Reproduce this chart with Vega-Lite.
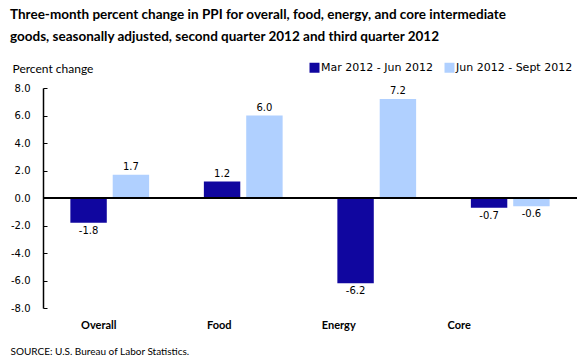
{
  "$schema": "https://vega.github.io/schema/vega-lite/v6.json",
  "width": 534,
  "height": 220,
  "autosize": {"type": "none"},
  "padding": {"left": 43, "top": 88, "right": 3, "bottom": 52},
  "background": "white",
  "title": {
    "text": ["Three-month percent change in PPI for overall, food, energy, and core intermediate", "goods, seasonally adjusted, second quarter 2012 and third quarter 2012"],
    "anchor": "start",
    "frame": "group",
    "font": "Lato",
    "fontSize": 13.5,
    "fontWeight": "bold",
    "color": "#000000",
    "lineHeight": 22,
    "dx": -33,
    "dy": 21,
    "offset": 40
  },
  "data": {
    "values": [
      {"category": "Overall", "period": "Mar 2012 - Jun 2012", "value": -1.8},
      {"category": "Overall", "period": "Jun 2012 - Sept 2012", "value": 1.7},
      {"category": "Food", "period": "Mar 2012 - Jun 2012", "value": 1.2},
      {"category": "Food", "period": "Jun 2012 - Sept 2012", "value": 6.0},
      {"category": "Energy", "period": "Mar 2012 - Jun 2012", "value": -6.2},
      {"category": "Energy", "period": "Jun 2012 - Sept 2012", "value": 7.2},
      {"category": "Core", "period": "Mar 2012 - Jun 2012", "value": -0.7},
      {"category": "Core", "period": "Jun 2012 - Sept 2012", "value": -0.6}
    ]
  },
  "encoding": {
    "x": {
      "field": "category",
      "type": "nominal",
      "sort": ["Overall", "Food", "Energy", "Core"],
      "scale": {"paddingInner": 0.41, "paddingOuter": 0.205},
      "axis": {
        "title": "SOURCE:  U.S. Bureau of Labor Statistics.",
        "titleFont": "Lato",
        "titleFontSize": 10,
        "titleFontWeight": "normal",
        "titleColor": "#000000",
        "titleAnchor": "start",
        "titleAlign": "left",
        "titleX": -33,
        "titleY": 43,
        "titleBaseline": "middle",
        "domain": false,
        "ticks": false,
        "labelAngle": 0,
        "labelFont": "Lato",
        "labelFontSize": 11,
        "labelFontWeight": "bold",
        "labelColor": "#000000",
        "labelPadding": 17,
        "labelBaseline": "middle",
        "labelOffset": {
          "condition": [
            {"test": "datum.value === 'Overall'", "value": -11},
            {"test": "datum.value === 'Food'", "value": -24},
            {"test": "datum.value === 'Energy'", "value": -38}
          ],
          "value": -51
        }
      }
    },
    "xOffset": {
      "field": "period",
      "type": "nominal",
      "sort": ["Mar 2012 - Jun 2012", "Jun 2012 - Sept 2012"],
      "scale": {"paddingInner": 0.14, "paddingOuter": 0}
    },
    "y": {
      "field": "value",
      "type": "quantitative",
      "scale": {"domain": [-8, 8], "nice": false, "zero": false},
      "axis": {
        "values": [-8, -6, -4, -2, 0, 2, 4, 6, 8],
        "format": ".1f",
        "grid": false,
        "domainColor": "#000000",
        "domainWidth": 1.5,
        "tickColor": "#000000",
        "tickSize": -4,
        "tickWidth": 1,
        "labelFont": "DejaVu Sans",
        "labelFontSize": 10,
        "labelColor": "#000000",
        "labelPadding": 17,
        "title": "Percent change",
        "titleFont": "Lato",
        "titleFontSize": 12,
        "titleFontWeight": "normal",
        "titleColor": "#000000",
        "titleAngle": 0,
        "titleAlign": "left",
        "titleBaseline": "middle",
        "titleX": -31,
        "titleY": -20
      }
    }
  },
  "layer": [
    {
      "mark": {"type": "bar"},
      "encoding": {
        "color": {
          "field": "period",
          "type": "nominal",
          "sort": ["Mar 2012 - Jun 2012", "Jun 2012 - Sept 2012"],
          "scale": {"range": ["#10069F", "#B0D0FF"]},
          "legend": {
            "title": null,
            "orient": "none",
            "direction": "horizontal",
            "legendX": 266,
            "legendY": -26,
            "symbolType": "square",
            "symbolSize": 100,
            "symbolStrokeWidth": 0,
            "symbolOpacity": 1,
            "labelFont": "DejaVu Sans",
            "labelFontSize": 11,
            "labelColor": "#000000",
            "labelOffset": 1,
            "columnPadding": 11
          }
        }
      }
    },
    {
      "transform": [{"filter": "datum.value >= 0"}],
      "mark": {"type": "text", "baseline": "bottom", "dy": -3, "font": "DejaVu Sans", "fontSize": 10, "color": "#000000"},
      "encoding": {"text": {"field": "value", "type": "quantitative", "format": ".1f"}}
    },
    {
      "transform": [{"filter": "datum.value < 0"}],
      "mark": {"type": "text", "baseline": "top", "dy": 3, "font": "DejaVu Sans", "fontSize": 10, "color": "#000000"},
      "encoding": {"text": {"field": "value", "type": "quantitative", "format": ".1f"}}
    },
    {
      "mark": {"type": "rule", "color": "#000000", "strokeWidth": 1.5},
      "encoding": {"y": {"datum": 0}, "x": null, "xOffset": null}
    }
  ],
  "config": {
    "view": {"stroke": null},
    "locale": {"number": {"decimal": ".", "thousands": ",", "grouping": [3], "currency": ["$", ""], "minus": "-"}}
  }
}
